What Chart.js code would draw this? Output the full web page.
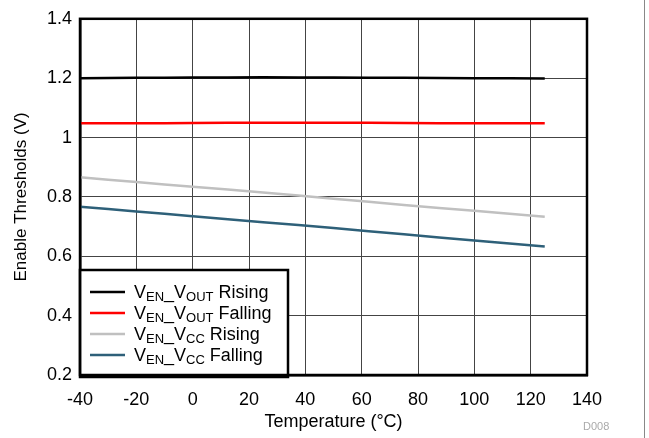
<!DOCTYPE html>
<html>
<head>
<meta charset="utf-8">
<script src="https://cdn.jsdelivr.net/npm/chart.js@4"></script>
<style>
  html, body { margin: 0; padding: 0; background: #fff; }
  #wrap { position: relative; width: 649px; height: 438px; }
  #edge { position: absolute; left: 644px; top: 0; width: 1px; height: 438px; background: #888; }
  #code { position: absolute; left: 583px; top: 420px; font: 11px "Liberation Sans", Arial, sans-serif; color: #aaa; }
</style>
</head>
<body>
<div id="wrap">
  <canvas id="grafico" width="649" height="438"></canvas>
  <div id="edge"></div>
  <div id="code">D008</div>
</div>
<script>
// Temperatures (°C)
const temps = [-40, -20, 0, 25, 50, 75, 100, 125];
// Threshold values (V)
const voutRising  = [1.200, 1.201, 1.202, 1.203, 1.202, 1.201, 1.200, 1.199];
const voutFalling = [1.048, 1.048, 1.049, 1.050, 1.050, 1.049, 1.048, 1.048];
const vccRising   = [0.866, 0.850, 0.834, 0.815, 0.794, 0.773, 0.753, 0.733];
const vccFalling  = [0.767, 0.751, 0.735, 0.715, 0.695, 0.674, 0.653, 0.633];

const xTicks = [-40, -20, 0, 20, 40, 60, 80, 100, 120, 140];
const yTicks = [0.2, 0.4, 0.6, 0.8, 1, 1.2, 1.4];

const series = [
  { main: 'V', sub1: 'EN', mid: '_V', sub2: 'OUT', tail: ' Rising', data: voutRising, color: '#000000' },
  { main: 'V', sub1: 'EN', mid: '_V', sub2: 'OUT', tail: ' Falling', data: voutFalling, color: '#ff0000' },
  { main: 'V', sub1: 'EN', mid: '_V', sub2: 'CC', tail: ' Rising', data: vccRising, color: '#c0c0c0' },
  { main: 'V', sub1: 'EN', mid: '_V', sub2: 'CC', tail: ' Falling', data: vccFalling, color: '#2e6079' }
];

const FONT = '"Liberation Sans", Arial, sans-serif';

// legend drawn by hand so the subscripts come out right
const legendaPlugin = {
  id: 'leyenda',
  afterDatasetsDraw(chart) {
    const ctx = chart.ctx;
    const x0 = 80, y0 = 270, w = 208, h = 107;
    ctx.save();
    ctx.fillStyle = '#fff';
    ctx.fillRect(x0, y0, w, h);
    ctx.strokeStyle = '#000';
    ctx.lineWidth = 2.5;
    ctx.strokeRect(x0, y0, w, h);
    series.forEach((s, i) => {
      const y = 292 + i * 21;
      ctx.strokeStyle = s.color;
      ctx.lineWidth = 2.5;
      ctx.beginPath();
      ctx.moveTo(90, y);
      ctx.lineTo(125, y);
      ctx.stroke();
      ctx.fillStyle = '#000';
      ctx.textBaseline = 'alphabetic';
      let x = 134;
      const base = y + 6;
      ctx.font = '18px ' + FONT;
      ctx.fillText(s.main, x, base); x += ctx.measureText(s.main).width;
      ctx.font = '13px ' + FONT;
      ctx.fillText(s.sub1, x, base + 3); x += ctx.measureText(s.sub1).width;
      ctx.font = '18px ' + FONT;
      ctx.fillText(s.mid, x, base); x += ctx.measureText(s.mid).width;
      ctx.font = '13px ' + FONT;
      ctx.fillText(s.sub2, x, base + 3); x += ctx.measureText(s.sub2).width;
      ctx.font = '18px ' + FONT;
      ctx.fillText(s.tail, x, base);
    });
    ctx.restore();
  }
};

const ctx = document.getElementById('grafico').getContext('2d');
new Chart(ctx, {
  type: 'line',
  data: {
    datasets: series.map(s => ({
      label: s.main + s.sub1 + s.mid + s.sub2 + s.tail,
      data: temps.map((t, i) => ({ x: t, y: s.data[i] })),
      borderColor: s.color,
      borderWidth: 2.5,
      pointRadius: 0,
      tension: 0.3,
      fill: false
    }))
  },
  options: {
    responsive: false,
    animation: false,
    layout: { padding: { left: 0, right: 62, top: 17, bottom: 0 } },
    plugins: { legend: { display: false }, tooltip: { enabled: false } },
    scales: {
      x: {
        type: 'linear',
        min: -40, max: 140,
        afterBuildTicks: sc => { sc.ticks = xTicks.map(v => ({ value: v })); },
        afterFit: sc => { sc.height = 63; },
        grid: { color: '#444', lineWidth: 1, drawTicks: false },
        border: { color: '#000', width: 2.5 },
        ticks: { color: '#000', font: { family: FONT, size: 18 }, padding: 14, maxRotation: 0 },
        title: { display: true, text: 'Temperature (°C)', color: '#000', font: { family: FONT, size: 18 }, padding: { top: 0, bottom: 5 } }
      },
      y: {
        type: 'linear',
        min: 0.2, max: 1.4,
        afterBuildTicks: sc => { sc.ticks = yTicks.map(v => ({ value: v })); },
        afterFit: sc => { sc.width = 80; },
        grid: { color: '#444', lineWidth: 1, drawTicks: false },
        border: { color: '#000', width: 2.5 },
        ticks: { color: '#000', font: { family: FONT, size: 18 }, padding: 8, callback: v => String(Math.round(v * 10) / 10) },
        title: { display: true, text: 'Enable Thresholds (V)', color: '#000', font: { family: FONT, size: 17 }, padding: { top: 11, bottom: 11 } }
      }
    }
  },
  plugins: [legendaPlugin, {
    id: 'marco',
    afterDraw(chart) {
      const a = chart.chartArea, c = chart.ctx;
      c.save();
      c.strokeStyle = '#000';
      c.lineWidth = 2.5;
      c.strokeRect(a.left, a.top, a.right - a.left, a.bottom - a.top);
      c.restore();
    }
  }]
});
</script>
</body>
</html>
